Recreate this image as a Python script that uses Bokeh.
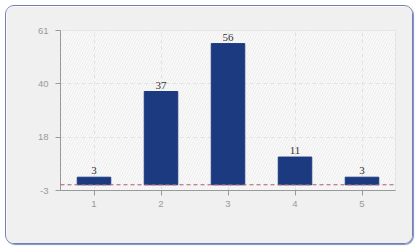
from bokeh.plotting import figure
from bokeh.models import ColumnDataSource, Range1d, FixedTicker, Span, Label, BoxAnnotation, LabelSet
from bokeh.embed import file_html
from bokeh.resources import INLINE

categories = [1, 2, 3, 4, 5]
values = [3, 37, 56, 11, 3]
y_min, y_max = -2.27, 61.2
y_tick_labels = ["-3", "18", "40", "61"]
threshold = 0

FONT = "Liberation Sans"
src = ColumnDataSource(dict(x=categories, top=values, label=[str(v) for v in values]))

n = len(y_tick_labels) - 1
y_ticks = [y_min + (y_max - y_min) * i / n for i in range(n + 1)]

p = figure(frame_width=335, frame_height=160,
           min_border_left=54, min_border_right=17, min_border_top=24, min_border_bottom=53,
           x_range=Range1d(0.5, 5.5), y_range=Range1d(y_min, y_max),
           output_backend="svg", toolbar_location=None,
           background_fill_color="#fbfbfb", border_fill_color="#f0f0f0",
           margin=(5, 6, 5, 5),
           styles={"border": "1px solid #7080b0", "border-radius": "9px",
                   "overflow": "hidden", "box-shadow": "1px 1px 1px #8090c0"})

p.add_layout(BoxAnnotation(fill_color="#fbfbfb", fill_alpha=1, line_color=None,
                           hatch_pattern="/", hatch_color="#ebebeb", hatch_scale=5,
                           hatch_weight=1, level="image"))

p.vbar(x="x", top="top", bottom=0, width=0.5, source=src,
       fill_color="#1b3a80", line_color="#1b3a80")

p.add_layout(LabelSet(x="x", y="top", text="label", source=src, text_align="center",
                      text_baseline="alphabetic", y_offset=3, text_font_size="11px",
                      text_color="#333333", text_font=FONT))

p.add_layout(Span(location=threshold, dimension="width", line_color="#b05a6a",
                  line_dash="4 3", line_width=1))
p.add_layout(Label(x=5.5, y=threshold, text=str(threshold), x_offset=3,
                   text_baseline="middle", text_color="#b05a6a",
                   text_font_size="9.5px", text_font=FONT))

p.outline_line_color = "#dddddd"
for ax in (p.xaxis[0], p.yaxis[0]):
    ax.axis_line_color = "#999999"
    ax.major_tick_line_color = "#999999"
    ax.major_tick_out = 5
    ax.major_tick_in = 0
    ax.minor_tick_line_color = None
    ax.major_label_text_color = "#999999"
    ax.major_label_text_font = FONT
    ax.major_label_text_font_size = "9.5px"
p.yaxis.ticker = FixedTicker(ticks=y_ticks)
p.yaxis.major_label_overrides = {t: s for t, s in zip(y_ticks, y_tick_labels)}
p.xaxis.ticker = FixedTicker(ticks=categories)
p.yaxis.major_label_standoff = 7
p.xaxis.major_label_standoff = 5

for g in (p.xgrid[0], p.ygrid[0]):
    g.grid_line_color = "#e2e2e2"
    g.grid_line_dash = "4 3"
p.xgrid.ticker = FixedTicker(ticks=categories)
p.ygrid.ticker = FixedTicker(ticks=y_ticks)

open("out.html", "w").write(file_html(p, INLINE))
